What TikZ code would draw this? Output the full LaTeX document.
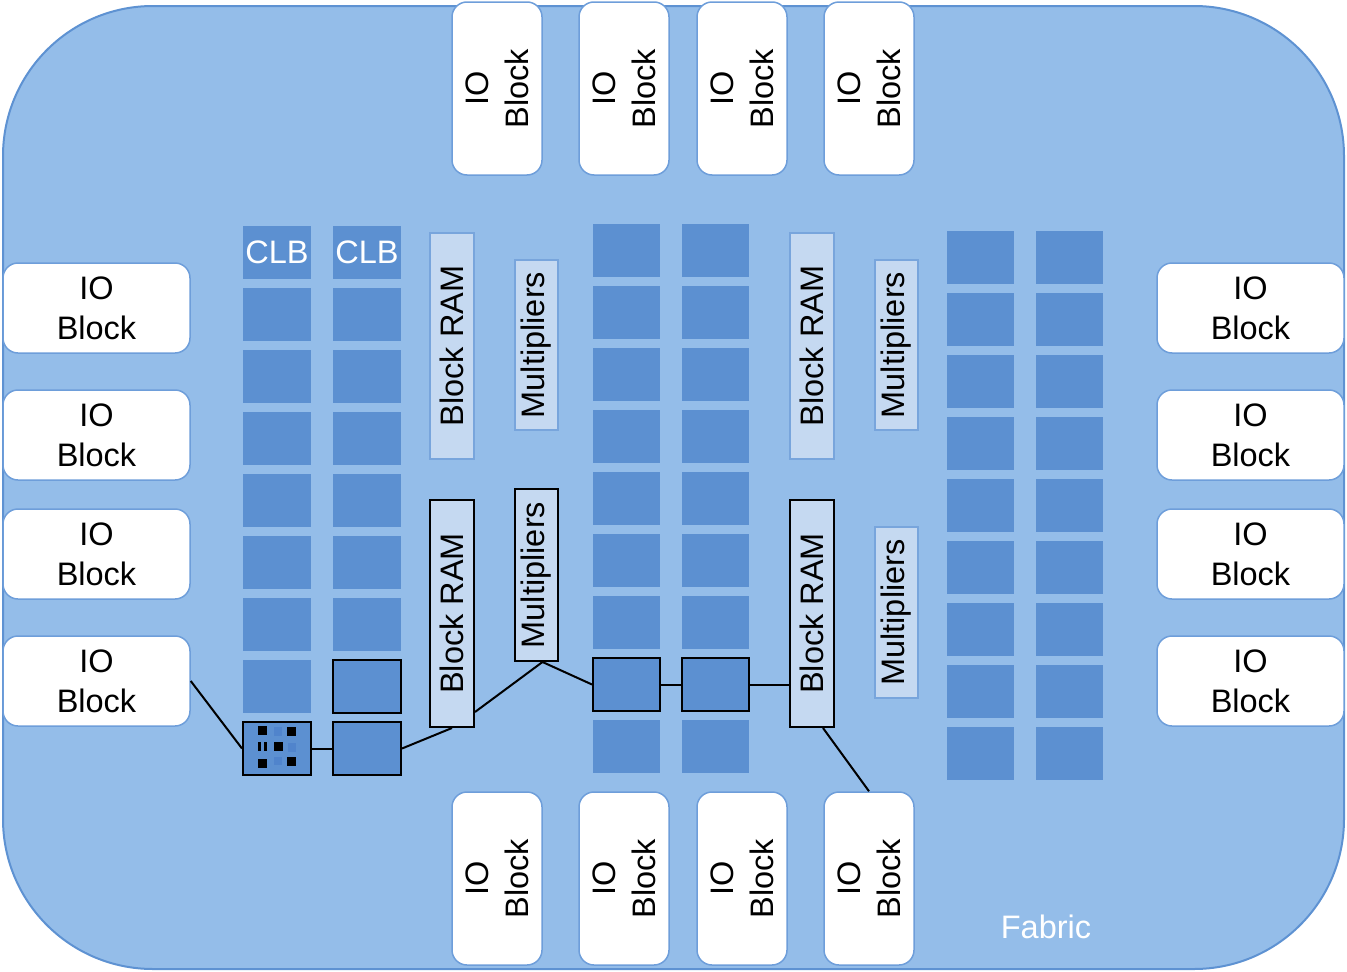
\documentclass[tikz,border=0pt]{standalone}
\usepackage{fontspec}
\setmainfont{Liberation Sans}
\definecolor{fabricfill}{RGB}{148,189,233}
\definecolor{fabricline}{RGB}{94,146,210}
\definecolor{clbfill}{RGB}{92,144,209}
\definecolor{ioline}{RGB}{110,158,218}
\definecolor{bramfill}{RGB}{197,217,241}
\definecolor{bramline}{RGB}{120,165,220}
\definecolor{dotblue}{RGB}{80,132,204}
\newcommand\diafont{\fontsize{32.5}{40}\selectfont}
\begin{document}
\begin{tikzpicture}[x=1pt,y=-1pt,
  fabric/.style={draw=fabricline, line width=2pt, fill=fabricfill, rounded corners=150pt},
  iob/.style={draw=ioline, line width=1.5pt, fill=white, rounded corners=15pt, inner sep=0pt},
  iotext/.style={font=\diafont, align=center, inner sep=0pt},
  clb/.style={fill=clbfill, inner sep=0pt, minimum width=68pt, minimum height=53pt, font=\diafont, text=white},
  clbhi/.style={clb, draw=black, line width=2pt},
  bram/.style={draw=bramline, line width=1.2pt, fill=bramfill, inner sep=0pt, minimum width=44pt},
  bramhi/.style={bram, draw=black, line width=2pt},
  rottext/.style={font=\diafont, rotate=90, inner sep=0pt},
  conn/.style={draw=black, line width=2pt},
  dotk/.style={fill=black},
  dotb/.style={fill=dotblue}
]
\useasboundingbox (0,0) rectangle (1347,972);
% fabric
\path[fabric] (3,6) rectangle (1344,969);
\node[font=\diafont, text=white, inner sep=0pt] (fabtxt) at (1046,927) {Fabric};

% left and right IO blocks
\foreach \i/\cy in {1/308,2/435,3/554,4/681}{
  \node[iob, minimum width=187pt, minimum height=90pt] (lio\i) at (96.5,\cy) {};
  \node[iotext] (lio\i t) at (lio\i) {IO\\Block};
  \node[iob, minimum width=187pt, minimum height=90pt] (rio\i) at (1250.5,\cy) {};
  \node[iotext] (rio\i t) at (rio\i) {IO\\Block};
}
% top and bottom IO blocks
\foreach \i/\cx in {1/497,2/624,3/742,4/869}{
  \node[iob, minimum width=90pt, minimum height=173pt] (tio\i) at (\cx,88.5) {};
  \node[iotext, rotate=90] (tio\i t) at (tio\i) {IO\\Block};
  \node[iob, minimum width=90pt, minimum height=173pt] (bio\i) at (\cx,878.5) {};
  \node[iotext, rotate=90] (bio\i t) at (bio\i) {IO\\Block};
}

% CLB columns 1 and 2
\node[clb] (c1r1) at (277,252.5) {CLB};
\node[clb] (c2r1) at (367,252.5) {CLB};
\foreach \k in {2,...,8}{
  \node[clb] (c1r\k) at (277,{252.5+62*(\k-1)}) {};
}
\foreach \k in {2,...,7}{
  \node[clb] (c2r\k) at (367,{252.5+62*(\k-1)}) {};
}
\node[clbhi] (c2r8) at (367,686.5) {};
\node[clbhi] (c2r9) at (367,748.5) {};
\node[clbhi] (c1r9) at (277,748.5) {};
% detail inside the highlighted CLB
\fill[dotk] (258,726) rectangle (267,735);
\fill[dotb] (274,727) rectangle (282,736);
\fill[dotk] (287,727) rectangle (296,736);
\fill[dotk] (258,742) rectangle (261,751);
\fill[dotk] (264,742) rectangle (267,751);
\fill[dotk] (274,742) rectangle (283,751);
\fill[dotb] (288,743) rectangle (296,752);
\fill[dotk] (258,759) rectangle (267,768);
\fill[dotb] (274,757) rectangle (282,765);
\fill[dotk] (287,757) rectangle (296,766);

% CLB columns 3 and 4
\foreach \k in {1,...,7,9}{
  \node[clb, minimum width=67pt] (c3r\k) at (626.5,{250.5+62*(\k-1)}) {};
  \node[clb, minimum width=67pt] (c4r\k) at (715.5,{250.5+62*(\k-1)}) {};
}
\node[clbhi, minimum width=67pt] (c3r8) at (626.5,684.5) {};
\node[clbhi, minimum width=67pt] (c4r8) at (715.5,684.5) {};

% CLB columns 5 and 6
\foreach \k in {1,...,9}{
  \node[clb, minimum width=67pt] (c5r\k) at (980.5,{257.5+62*(\k-1)}) {};
  \node[clb, minimum width=67pt] (c6r\k) at (1069.5,{257.5+62*(\k-1)}) {};
}

% Block RAMs
\node[bram, minimum height=226pt] (bram1) at (452,346) {};
\node[rottext] (bram1t) at (bram1) {Block RAM};
\node[bramhi, minimum height=227pt] (bram2) at (452,613.5) {};
\node[rottext] (bram2t) at (bram2) {Block RAM};
\node[bram, minimum height=226pt] (bram3) at (812,346) {};
\node[rottext] (bram3t) at (bram3) {Block RAM};
\node[bramhi, minimum height=227pt] (bram4) at (812,613.5) {};
\node[rottext] (bram4t) at (bram4) {Block RAM};

% Multipliers
\node[bram, minimum width=43pt, minimum height=170pt] (mult1) at (536.5,345) {};
\node[rottext] (mult1t) at (mult1) {Multipliers};
\node[bramhi, minimum width=43pt, minimum height=172pt] (mult2) at (536.5,575) {};
\node[rottext] (mult2t) at (mult2) {Multipliers};
\node[bram, minimum width=43pt, minimum height=170pt] (mult3) at (896.5,345) {};
\node[rottext] (mult3t) at (mult3) {Multipliers};
\node[bram, minimum width=43pt, minimum height=171pt] (mult4) at (896.5,612.5) {};
\node[rottext] (mult4t) at (mult4) {Multipliers};

% connectors
\draw[conn] (lio4.east) -- (c1r9.west);
\draw[conn] (c1r9.east) -- (c2r9.west);
\draw[conn] (c2r9.east) -- (bram2.south);
\draw[conn] ([yshift=16pt]bram2.south east) -- ([xshift=6pt]mult2.south) -- (c3r8.west);
\draw[conn] (c3r8.east) -- (c4r8.west);
\draw[conn] (c4r8.east) -- (c4r8.east -| bram4.west);
\draw[conn] ([xshift=11pt]bram4.south) -- (bio4.north);
\end{tikzpicture}
\end{document}
